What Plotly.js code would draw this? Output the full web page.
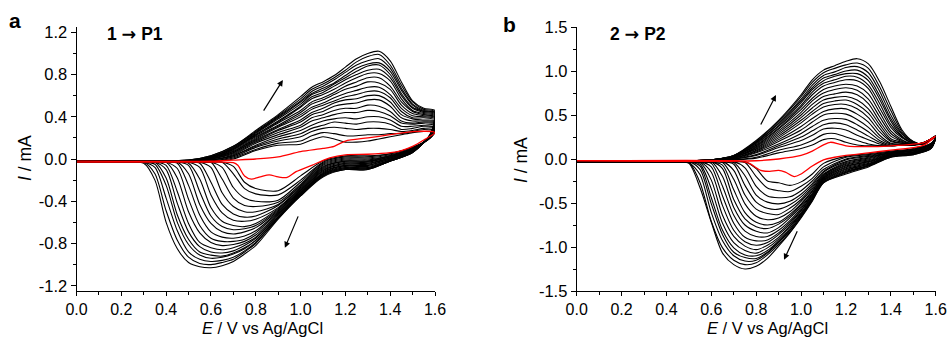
<!DOCTYPE html>
<html>
<head>
<meta charset="utf-8">
<script src="https://cdn.plot.ly/plotly-3.0.1.min.js"></script>
<style>html,body{margin:0;padding:0;background:#fff;}#chart{width:949px;height:338px;}</style>
</head>
<body>
<div id="chart"></div>
<script>
// ================= Panel a : 1 -> P1 =================
// first cycle (red)
const aFirstFwdE = [0, 0.6, 0.7, 0.8, 0.9, 1.0, 1.1, 1.15, 1.2, 1.3, 1.4, 1.5, 1.6];
const aFirstFwdI = [-0.02, -0.02, -0.01, 0.0, 0.02, 0.07, 0.10, 0.12, 0.17, 0.20, 0.23, 0.26, 0.25];
const aFirstRevE = [1.55, 1.5, 1.45, 1.4, 1.3, 1.2, 1.13, 1.05, 0.98, 0.94, 0.9, 0.86, 0.82, 0.78, 0.75, 0.72, 0.7, 0.6, 0];
const aFirstRevI = [0.18, 0.12, 0.08, 0.06, 0.045, 0.04, 0.01, -0.06, -0.12, -0.175, -0.17, -0.15, -0.17, -0.19, -0.16, -0.06, -0.035, -0.03, -0.03];

// following cycles (black): anodic sweep, currents of cycles 2..21 at each potential
const aFwdE = [0, 0.5, 0.6, 0.7, 0.8, 0.9, 1.0, 1.05, 1.1, 1.15, 1.2, 1.25, 1.3, 1.35, 1.4, 1.45, 1.5, 1.55, 1.6];
const aFwdI = [
 [-0.02,-0.02,-0.02,-0.02,-0.02,-0.02,-0.02,-0.02,-0.02,-0.02,-0.02,-0.02,-0.02,-0.02,-0.02,-0.02,-0.02,-0.02,-0.02,-0.02],
 [-0.02,-0.02,-0.02,-0.02,-0.02,-0.02,-0.02,-0.02,-0.02,-0.02,-0.02,-0.02,-0.02,-0.02,-0.02,-0.02,-0.02,-0.01,-0.01,-0.01],
 [-0.02,-0.02,-0.02,-0.01,-0.01,-0.01,0.00,0.00,0.00,0.00,0.01,0.01,0.01,0.01,0.02,0.02,0.02,0.02,0.03,0.03],
 [0.00,0.01,0.02,0.03,0.03,0.04,0.05,0.06,0.06,0.07,0.07,0.08,0.09,0.09,0.10,0.10,0.11,0.11,0.12,0.12],
 [0.08,0.09,0.11,0.12,0.13,0.15,0.16,0.17,0.18,0.19,0.20,0.21,0.22,0.23,0.23,0.24,0.25,0.25,0.26,0.27],
 [0.13,0.15,0.17,0.19,0.21,0.23,0.25,0.27,0.28,0.30,0.31,0.32,0.34,0.35,0.36,0.38,0.39,0.40,0.41,0.42],
 [0.14,0.17,0.21,0.24,0.27,0.30,0.32,0.35,0.37,0.40,0.42,0.44,0.46,0.49,0.50,0.52,0.54,0.55,0.57,0.59],
 [0.18,0.22,0.26,0.29,0.32,0.36,0.39,0.42,0.44,0.47,0.49,0.52,0.54,0.57,0.59,0.61,0.62,0.64,0.66,0.68],
 [0.21,0.25,0.29,0.32,0.36,0.39,0.42,0.45,0.48,0.51,0.53,0.56,0.58,0.61,0.63,0.65,0.67,0.69,0.71,0.73],
 [0.19,0.24,0.30,0.35,0.38,0.42,0.46,0.50,0.53,0.55,0.58,0.61,0.63,0.66,0.69,0.71,0.72,0.75,0.77,0.79],
 [0.16,0.22,0.29,0.34,0.39,0.44,0.48,0.52,0.56,0.59,0.62,0.66,0.69,0.72,0.75,0.77,0.79,0.82,0.84,0.87],
 [0.16,0.22,0.28,0.33,0.38,0.44,0.48,0.53,0.57,0.61,0.65,0.69,0.73,0.77,0.80,0.83,0.86,0.89,0.92,0.95],
 [0.17,0.23,0.29,0.35,0.40,0.46,0.51,0.56,0.60,0.64,0.68,0.73,0.77,0.81,0.84,0.88,0.90,0.93,0.97,1.00],
 [0.19,0.23,0.29,0.35,0.40,0.45,0.50,0.56,0.60,0.64,0.68,0.72,0.77,0.81,0.85,0.89,0.91,0.95,0.99,1.02],
 [0.21,0.24,0.28,0.33,0.37,0.41,0.45,0.50,0.54,0.58,0.61,0.66,0.69,0.74,0.77,0.80,0.83,0.86,0.89,0.93],
 [0.23,0.24,0.26,0.28,0.31,0.34,0.36,0.39,0.42,0.45,0.48,0.51,0.54,0.57,0.60,0.62,0.65,0.67,0.70,0.73],
 [0.25,0.26,0.27,0.29,0.31,0.33,0.34,0.36,0.38,0.39,0.41,0.43,0.45,0.46,0.48,0.49,0.51,0.52,0.54,0.55],
 [0.26,0.28,0.29,0.31,0.32,0.34,0.35,0.36,0.37,0.39,0.40,0.41,0.42,0.43,0.44,0.45,0.45,0.46,0.47,0.48],
 [0.26,0.27,0.29,0.30,0.32,0.33,0.34,0.35,0.36,0.37,0.38,0.39,0.40,0.41,0.42,0.43,0.44,0.44,0.45,0.46]
];
// cathodic sweep, one row per cycle (2..21)
const aRevE = [1.58, 1.5, 1.4, 1.3, 1.2, 1.1, 1.0, 0.9, 0.8, 0.75, 0.7, 0.65, 0.6, 0.55, 0.5, 0.45, 0.4, 0.35, 0.3, 0.2, 0];
const aRevI = [
 [0.20,0.11,0.05,0.03,0.03,-0.02,-0.16,-0.30,-0.28,-0.22,-0.07,-0.03,-0.03,-0.03,-0.03,-0.03,-0.03,-0.03,-0.03,-0.03,-0.03],
 [0.20,0.11,0.05,0.02,0.02,-0.03,-0.20,-0.34,-0.33,-0.28,-0.14,-0.03,-0.03,-0.03,-0.03,-0.03,-0.03,-0.03,-0.03,-0.03,-0.03],
 [0.21,0.10,0.04,0.01,0.01,-0.04,-0.22,-0.39,-0.40,-0.37,-0.27,-0.08,-0.03,-0.03,-0.03,-0.03,-0.03,-0.03,-0.03,-0.03,-0.03],
 [0.21,0.10,0.03,0.00,0.00,-0.05,-0.24,-0.41,-0.45,-0.44,-0.37,-0.19,-0.03,-0.03,-0.03,-0.03,-0.03,-0.03,-0.03,-0.03,-0.03],
 [0.21,0.10,0.03,-0.01,-0.01,-0.06,-0.25,-0.43,-0.50,-0.50,-0.45,-0.32,-0.08,-0.03,-0.03,-0.03,-0.03,-0.03,-0.03,-0.03,-0.03],
 [0.21,0.09,0.03,-0.02,-0.02,-0.07,-0.26,-0.44,-0.54,-0.55,-0.52,-0.43,-0.22,-0.04,-0.03,-0.03,-0.03,-0.03,-0.03,-0.03,-0.03],
 [0.22,0.09,0.02,-0.02,-0.02,-0.08,-0.27,-0.46,-0.57,-0.59,-0.58,-0.51,-0.34,-0.08,-0.03,-0.03,-0.03,-0.03,-0.03,-0.03,-0.03],
 [0.22,0.09,0.02,-0.03,-0.03,-0.09,-0.28,-0.47,-0.61,-0.64,-0.63,-0.59,-0.46,-0.19,-0.04,-0.03,-0.03,-0.03,-0.03,-0.03,-0.03],
 [0.22,0.08,0.01,-0.04,-0.04,-0.10,-0.29,-0.48,-0.63,-0.66,-0.67,-0.64,-0.54,-0.31,-0.06,-0.03,-0.03,-0.03,-0.03,-0.03,-0.03],
 [0.22,0.08,0.01,-0.04,-0.04,-0.11,-0.30,-0.49,-0.65,-0.69,-0.71,-0.69,-0.61,-0.43,-0.14,-0.03,-0.03,-0.03,-0.03,-0.03,-0.03],
 [0.22,0.08,0.01,-0.05,-0.05,-0.11,-0.30,-0.50,-0.68,-0.73,-0.75,-0.74,-0.69,-0.53,-0.25,-0.04,-0.03,-0.03,-0.03,-0.03,-0.03],
 [0.23,0.08,0.00,-0.06,-0.06,-0.12,-0.31,-0.51,-0.70,-0.76,-0.78,-0.78,-0.75,-0.63,-0.38,-0.09,-0.03,-0.03,-0.03,-0.03,-0.03],
 [0.23,0.07,0.00,-0.06,-0.06,-0.13,-0.32,-0.52,-0.72,-0.78,-0.81,-0.82,-0.79,-0.70,-0.50,-0.18,-0.03,-0.03,-0.03,-0.03,-0.03],
 [0.23,0.07,-0.01,-0.07,-0.07,-0.14,-0.32,-0.53,-0.74,-0.80,-0.84,-0.86,-0.84,-0.79,-0.61,-0.31,-0.06,-0.03,-0.03,-0.03,-0.03],
 [0.23,0.07,-0.01,-0.08,-0.08,-0.14,-0.33,-0.54,-0.75,-0.82,-0.87,-0.89,-0.88,-0.83,-0.69,-0.42,-0.10,-0.03,-0.03,-0.03,-0.03],
 [0.23,0.07,-0.01,-0.08,-0.08,-0.15,-0.33,-0.55,-0.77,-0.84,-0.89,-0.92,-0.91,-0.88,-0.76,-0.53,-0.18,-0.03,-0.03,-0.03,-0.03],
 [0.24,0.07,-0.02,-0.09,-0.09,-0.15,-0.34,-0.55,-0.77,-0.85,-0.90,-0.93,-0.94,-0.91,-0.81,-0.60,-0.25,-0.05,-0.03,-0.03,-0.03],
 [0.24,0.06,-0.02,-0.09,-0.09,-0.16,-0.34,-0.56,-0.79,-0.87,-0.93,-0.96,-0.97,-0.95,-0.88,-0.68,-0.37,-0.08,-0.03,-0.03,-0.03],
 [0.24,0.06,-0.02,-0.10,-0.10,-0.16,-0.35,-0.56,-0.80,-0.88,-0.95,-0.98,-1.00,-0.99,-0.93,-0.77,-0.49,-0.14,-0.03,-0.03,-0.03],
 [0.24,0.06,-0.02,-0.10,-0.10,-0.17,-0.35,-0.57,-0.82,-0.90,-0.97,-1.01,-1.03,-1.02,-0.98,-0.85,-0.60,-0.20,-0.04,-0.03,-0.03]
];

// ================= Panel b : 2 -> P2 =================
const bFirstFwdE = [0, 0.8, 0.9, 1.0, 1.05, 1.1, 1.13, 1.17, 1.2, 1.3, 1.4, 1.5, 1.55, 1.6];
const bFirstFwdI = [-0.02, -0.02, 0.0, 0.04, 0.09, 0.16, 0.19, 0.17, 0.15, 0.14, 0.15, 0.17, 0.19, 0.26];
const bFirstRevE = [1.55, 1.5, 1.4, 1.3, 1.2, 1.15, 1.1, 1.05, 1.0, 0.97, 0.93, 0.9, 0.86, 0.82, 0.8, 0.77, 0.74, 0.7, 0];
const bFirstRevI = [0.16, 0.13, 0.10, 0.07, 0.04, 0.02, -0.01, -0.08, -0.17, -0.20, -0.15, -0.13, -0.14, -0.13, -0.10, -0.05, -0.03, -0.02, -0.02];

const bFwdE = [0, 0.5, 0.6, 0.7, 0.8, 0.9, 1.0, 1.05, 1.1, 1.15, 1.2, 1.25, 1.3, 1.35, 1.4, 1.45, 1.5, 1.55, 1.6];
const bFwdI = [
 [-0.02,-0.02,-0.02,-0.02,-0.02,-0.02,-0.02,-0.02,-0.02,-0.02,-0.02,-0.02,-0.02,-0.02,-0.02,-0.02,-0.02,-0.02,-0.02,-0.02],
 [-0.02,-0.02,-0.02,-0.02,-0.02,-0.02,-0.02,-0.02,-0.02,-0.02,-0.02,-0.02,-0.02,-0.02,-0.02,-0.02,-0.02,-0.02,-0.02,-0.02],
 [-0.02,-0.02,-0.02,-0.02,-0.02,-0.02,-0.02,-0.02,-0.02,-0.02,-0.01,-0.01,-0.01,-0.01,-0.01,-0.01,-0.01,-0.01,-0.01,-0.01],
 [-0.01,-0.01,0.00,0.00,0.00,0.01,0.01,0.01,0.02,0.02,0.02,0.02,0.03,0.03,0.03,0.03,0.03,0.04,0.04,0.04],
 [0.01,0.02,0.04,0.05,0.07,0.08,0.09,0.10,0.11,0.12,0.13,0.14,0.15,0.16,0.17,0.18,0.19,0.19,0.20,0.21],
 [0.07,0.10,0.13,0.15,0.17,0.20,0.22,0.24,0.26,0.28,0.30,0.32,0.34,0.35,0.37,0.38,0.40,0.41,0.43,0.44],
 [0.12,0.16,0.21,0.25,0.29,0.33,0.37,0.41,0.44,0.47,0.50,0.53,0.56,0.59,0.61,0.64,0.66,0.68,0.71,0.73],
 [0.16,0.21,0.27,0.32,0.37,0.42,0.46,0.51,0.54,0.58,0.62,0.66,0.69,0.73,0.76,0.79,0.81,0.84,0.87,0.90],
 [0.22,0.28,0.34,0.39,0.44,0.50,0.54,0.59,0.63,0.67,0.71,0.75,0.79,0.83,0.86,0.89,0.92,0.95,0.98,1.01],
 [0.23,0.29,0.35,0.41,0.46,0.52,0.57,0.62,0.66,0.70,0.74,0.79,0.83,0.87,0.90,0.94,0.96,0.99,1.03,1.06],
 [0.19,0.25,0.33,0.39,0.45,0.51,0.57,0.62,0.67,0.71,0.76,0.81,0.85,0.90,0.94,0.97,1.00,1.04,1.07,1.11],
 [0.16,0.21,0.27,0.33,0.39,0.45,0.51,0.57,0.62,0.67,0.73,0.78,0.83,0.89,0.93,0.97,1.01,1.05,1.09,1.14],
 [0.15,0.17,0.22,0.26,0.31,0.36,0.42,0.47,0.52,0.57,0.63,0.68,0.74,0.80,0.84,0.89,0.93,0.98,1.03,1.08],
 [0.15,0.15,0.17,0.19,0.21,0.24,0.27,0.31,0.35,0.39,0.43,0.48,0.53,0.58,0.63,0.68,0.72,0.77,0.82,0.88],
 [0.15,0.15,0.15,0.15,0.16,0.17,0.18,0.20,0.21,0.23,0.26,0.29,0.32,0.36,0.39,0.43,0.46,0.50,0.55,0.60],
 [0.16,0.16,0.16,0.16,0.16,0.17,0.17,0.18,0.18,0.19,0.20,0.21,0.22,0.24,0.25,0.26,0.28,0.29,0.31,0.33],
 [0.16,0.16,0.16,0.16,0.16,0.16,0.16,0.16,0.16,0.16,0.17,0.17,0.17,0.18,0.18,0.18,0.19,0.19,0.20,0.20],
 [0.19,0.19,0.19,0.19,0.19,0.19,0.19,0.18,0.18,0.18,0.18,0.18,0.18,0.18,0.18,0.17,0.17,0.17,0.17,0.17],
 [0.25,0.25,0.25,0.25,0.25,0.25,0.25,0.25,0.25,0.25,0.26,0.26,0.26,0.26,0.26,0.26,0.26,0.26,0.26,0.26]
];
const bRevE = [1.58, 1.5, 1.4, 1.3, 1.2, 1.1, 1.05, 1.0, 0.95, 0.9, 0.85, 0.8, 0.75, 0.7, 0.65, 0.6, 0.55, 0.5, 0.45, 0.4, 0.2, 0];
const bRevI = [
 [0.18,0.12,0.09,0.06,0.03,-0.05,-0.17,-0.26,-0.30,-0.27,-0.25,-0.11,-0.03,-0.03,-0.03,-0.03,-0.03,-0.03,-0.03,-0.03,-0.03,-0.03],
 [0.18,0.11,0.08,0.05,0.02,-0.09,-0.22,-0.31,-0.37,-0.36,-0.33,-0.20,-0.04,-0.03,-0.03,-0.03,-0.03,-0.03,-0.03,-0.03,-0.03,-0.03],
 [0.17,0.11,0.08,0.04,0.00,-0.12,-0.25,-0.36,-0.43,-0.44,-0.42,-0.31,-0.10,-0.03,-0.03,-0.03,-0.03,-0.03,-0.03,-0.03,-0.03,-0.03],
 [0.17,0.10,0.07,0.03,-0.01,-0.14,-0.28,-0.40,-0.48,-0.51,-0.49,-0.41,-0.19,-0.04,-0.03,-0.03,-0.03,-0.03,-0.03,-0.03,-0.03,-0.03],
 [0.16,0.10,0.07,0.02,-0.03,-0.15,-0.30,-0.43,-0.52,-0.57,-0.56,-0.49,-0.30,-0.06,-0.03,-0.03,-0.03,-0.03,-0.03,-0.03,-0.03,-0.03],
 [0.16,0.10,0.07,0.01,-0.04,-0.17,-0.32,-0.46,-0.56,-0.63,-0.62,-0.57,-0.41,-0.13,-0.03,-0.03,-0.03,-0.03,-0.03,-0.03,-0.03,-0.03],
 [0.16,0.09,0.06,0.00,-0.05,-0.18,-0.34,-0.48,-0.60,-0.67,-0.69,-0.65,-0.51,-0.23,-0.04,-0.03,-0.03,-0.03,-0.03,-0.03,-0.03,-0.03],
 [0.15,0.09,0.06,-0.01,-0.06,-0.19,-0.36,-0.51,-0.63,-0.72,-0.75,-0.72,-0.61,-0.35,-0.07,-0.03,-0.03,-0.03,-0.03,-0.03,-0.03,-0.03],
 [0.15,0.08,0.05,-0.02,-0.07,-0.20,-0.37,-0.52,-0.65,-0.74,-0.79,-0.77,-0.68,-0.46,-0.11,-0.03,-0.03,-0.03,-0.03,-0.03,-0.03,-0.03],
 [0.15,0.08,0.05,-0.03,-0.08,-0.21,-0.39,-0.54,-0.67,-0.78,-0.84,-0.82,-0.75,-0.55,-0.20,-0.03,-0.03,-0.03,-0.03,-0.03,-0.03,-0.03],
 [0.14,0.08,0.05,-0.03,-0.09,-0.22,-0.40,-0.56,-0.70,-0.81,-0.88,-0.88,-0.82,-0.64,-0.31,-0.05,-0.03,-0.03,-0.03,-0.03,-0.03,-0.03],
 [0.14,0.07,0.04,-0.04,-0.10,-0.22,-0.41,-0.58,-0.72,-0.84,-0.92,-0.93,-0.89,-0.73,-0.42,-0.09,-0.03,-0.03,-0.03,-0.03,-0.03,-0.03],
 [0.14,0.07,0.04,-0.05,-0.11,-0.23,-0.42,-0.59,-0.74,-0.86,-0.95,-0.98,-0.94,-0.81,-0.53,-0.15,-0.03,-0.03,-0.03,-0.03,-0.03,-0.03],
 [0.13,0.07,0.04,-0.06,-0.12,-0.24,-0.43,-0.61,-0.76,-0.89,-0.98,-1.03,-0.99,-0.88,-0.64,-0.24,-0.04,-0.03,-0.03,-0.03,-0.03,-0.03],
 [0.13,0.06,0.03,-0.06,-0.13,-0.24,-0.44,-0.62,-0.77,-0.91,-1.01,-1.07,-1.04,-0.95,-0.73,-0.34,-0.06,-0.03,-0.03,-0.03,-0.03,-0.03],
 [0.13,0.06,0.03,-0.07,-0.14,-0.25,-0.45,-0.63,-0.79,-0.93,-1.04,-1.10,-1.09,-1.01,-0.81,-0.44,-0.08,-0.03,-0.03,-0.03,-0.03,-0.03],
 [0.13,0.06,0.03,-0.07,-0.15,-0.26,-0.46,-0.64,-0.81,-0.94,-1.06,-1.13,-1.12,-1.06,-0.86,-0.51,-0.12,-0.03,-0.03,-0.03,-0.03,-0.03],
 [0.12,0.06,0.03,-0.08,-0.15,-0.26,-0.46,-0.65,-0.81,-0.95,-1.07,-1.15,-1.16,-1.10,-0.93,-0.61,-0.18,-0.04,-0.03,-0.03,-0.03,-0.03],
 [0.12,0.05,0.02,-0.08,-0.16,-0.27,-0.47,-0.66,-0.83,-0.97,-1.09,-1.18,-1.20,-1.15,-1.01,-0.71,-0.27,-0.04,-0.03,-0.03,-0.03,-0.03],
 [0.12,0.05,0.02,-0.09,-0.17,-0.27,-0.48,-0.67,-0.84,-0.99,-1.13,-1.22,-1.25,-1.20,-1.07,-0.72,-0.33,-0.05,-0.03,-0.03,-0.03,-0.03]
];

// ticks
const xTickVals = [0, 0.2, 0.4, 0.6, 0.8, 1.0, 1.2, 1.4, 1.6];
const xTickText = ['0.0', '0.2', '0.4', '0.6', '0.8', '1.0', '1.2', '1.4', '1.6'];
const aYTickVals = [-1.2, -0.8, -0.4, 0, 0.4, 0.8, 1.2];
const aYTickText = ['-1.2', '-0.8', '-0.4', '0.0', '0.4', '0.8', '1.2'];
const bYTickVals = [-1.5, -1.0, -0.5, 0, 0.5, 1.0, 1.5];
const bYTickText = ['-1.5', '-1.0', '-0.5', '0.0', '0.5', '1.0', '1.5'];

// ================= drawing =================
const FONT = '"Liberation Sans", Arial, Helvetica, sans-serif';

function cycleTraces(fwdE, fwdI, revE, revI, xa, ya) {
  const out = [];
  for (let k = 0; k < revI.length; k++) {
    out.push({
      type: 'scatter', mode: 'lines', xaxis: xa, yaxis: ya,
      x: fwdE.concat(revE),
      y: fwdI.map(col => col[k]).concat(revI[k]),
      line: {color: '#000', width: 1.1, shape: 'spline', smoothing: 0.8},
      hoverinfo: 'skip', showlegend: false
    });
  }
  return out;
}
function firstTrace(fE, fI, rE, rI, xa, ya) {
  return {
    type: 'scatter', mode: 'lines', xaxis: xa, yaxis: ya,
    x: fE.concat(rE), y: fI.concat(rI),
    line: {color: '#ff0000', width: 1.3, shape: 'spline', smoothing: 0.8},
    hoverinfo: 'skip', showlegend: false
  };
}

const data = []
  .concat(cycleTraces(aFwdE, aFwdI, aRevE, aRevI, 'x', 'y'))
  .concat([firstTrace(aFirstFwdE, aFirstFwdI, aFirstRevE, aFirstRevI, 'x', 'y')])
  .concat(cycleTraces(bFwdE, bFwdI, bRevE, bRevI, 'x2', 'y2'))
  .concat([firstTrace(bFirstFwdE, bFirstFwdI, bFirstRevE, bFirstRevI, 'x2', 'y2')]);

function xAxis(domain, anchor) {
  return {
    domain: domain, anchor: anchor, range: [0, 1.6],
    showline: true, linecolor: '#000', linewidth: 1, mirror: false,
    showgrid: false, zeroline: false,
    ticks: 'outside', ticklen: 4, tickwidth: 1, tickcolor: '#000',
    tickmode: 'array', tickvals: xTickVals, ticktext: xTickText,
    tickfont: {family: FONT, size: 16, color: '#000'},
    minor: {ticks: 'outside', ticklen: 2.5, tickwidth: 1, tickcolor: '#000', tick0: 0, dtick: 0.1, showgrid: false},
    fixedrange: true
  };
}
function yAxis(domain, anchor, range, vals, text, minorStep) {
  return {
    domain: domain, anchor: anchor, range: range,
    showline: true, linecolor: '#000', linewidth: 1, mirror: false,
    showgrid: false, zeroline: false,
    ticks: 'outside', ticklen: 5, tickwidth: 1, tickcolor: '#000',
    tickmode: 'array', tickvals: vals, ticktext: text,
    tickfont: {family: FONT, size: 16.5, color: '#000'},
    minor: {ticks: 'outside', ticklen: 3, tickwidth: 1, tickcolor: '#000', tick0: vals[0], dtick: minorStep, showgrid: false},
    fixedrange: true
  };
}

const W = 949, H = 338;
const px = v => v / W, py = v => 1 - v / H;
function label(text, x, y, size, extra) {
  return Object.assign({
    xref: 'paper', yref: 'paper', x: px(x), y: py(y), text: text, showarrow: false,
    xanchor: 'center', yanchor: 'middle', font: {family: FONT, size: size, color: '#000'}
  }, extra || {});
}
function arrow(xa, ya, tailX, tailY, headX, headY) {
  return {
    xref: xa, yref: ya, axref: xa, ayref: ya,
    x: headX, y: headY, ax: tailX, ay: tailY, text: '',
    showarrow: true, arrowhead: 2, arrowsize: 1, arrowwidth: 1.2, arrowcolor: '#000',
    standoff: 0, startstandoff: 0
  };
}
const ARROW = '<span style="font-family:\'DejaVu Sans\'">\u2192</span>';

const layout = {
  width: W, height: H,
  margin: {l: 0, r: 0, t: 0, b: 0},
  paper_bgcolor: '#fff', plot_bgcolor: '#fff',
  showlegend: false, hovermode: false,
  font: {family: FONT, color: '#000'},
  xaxis: xAxis([76.5 / W, 435 / W], 'y'),
  yaxis: yAxis([py(291), py(27)], 'x', [-1.25, 1.25], aYTickVals, aYTickText, 0.2),
  xaxis2: xAxis([576.7 / W, 935.7 / W], 'y2'),
  yaxis2: yAxis([py(291), py(27)], 'x2', [-1.5, 1.5], bYTickVals, bYTickText, 0.25),
  annotations: [
    label('<b>a</b>', 15, 21, 21),
    label('<b>b</b>', 509, 24, 21),
    label('<b>1 ' + ARROW + ' P1</b>', 135, 34, 17.5),
    label('<b>2 ' + ARROW + ' P2</b>', 638, 34, 17.5),
    label('<i>I</i> / mA', 25, 158, 17.5, {textangle: -90}),
    label('<i>I</i> / mA', 521, 160, 17.5, {textangle: -90}),
    label('<i>E</i> / V vs Ag/AgCl', 262, 338, 16.5, {yanchor: 'bottom', borderpad: 0}),
    label('<i>E</i> / V vs Ag/AgCl', 767, 338, 16.5, {yanchor: 'bottom', borderpad: 0}),
    arrow('x', 'y', 0.831, 0.444, 0.921, 0.747),
    arrow('x', 'y', 0.992, -0.529, 0.930, -0.841),
    arrow('x2', 'y2', 0.817, 0.374, 0.888, 0.726),
    arrow('x2', 'y2', 0.986, -0.805, 0.924, -1.145)
  ]
};

Plotly.newPlot('chart', data, layout, {staticPlot: true, displayModeBar: false});
</script>
</body>
</html>
